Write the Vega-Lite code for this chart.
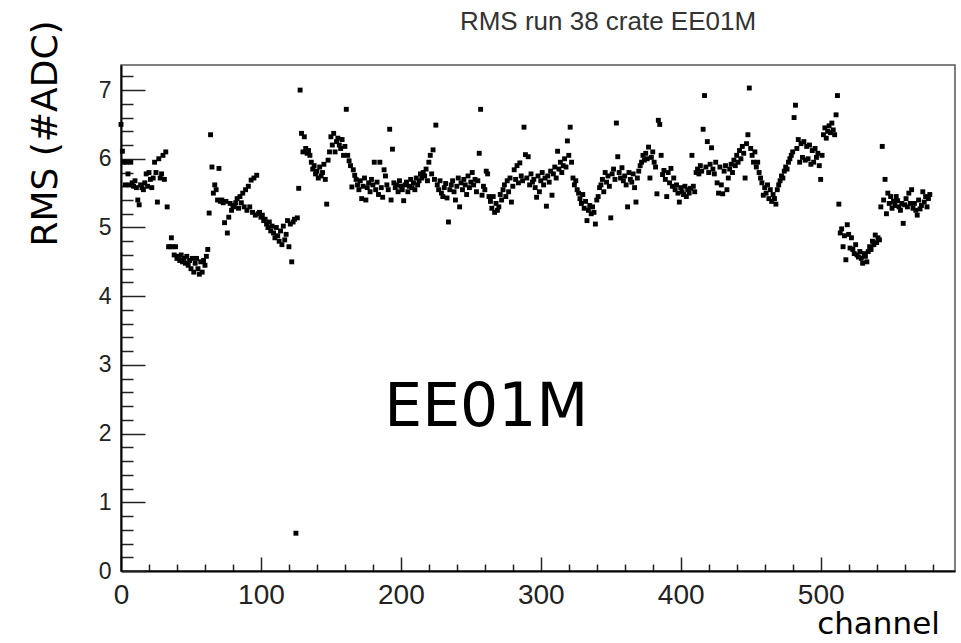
{
"$schema": "https://vega.github.io/schema/vega-lite/v6.json",
"width": 834,
"height": 506,
"autosize": {"type": "none"},
"padding": {"left": 121, "top": 65, "right": 6, "bottom": 72},
"background": "white",
"title": {"text": "RMS run 38 crate EE01M", "font": "Liberation Sans", "fontSize": 26, "fontWeight": "normal", "color": "#333", "anchor": "middle", "dx": 70, "dy": 40, "offset": 4, "baseline": "alphabetic", "frame": "group"},
"config": {
  "view": {"stroke": "#555", "strokeWidth": 1.5},
  "axis": {"grid": false, "domainColor": "#000", "domainWidth": 2, "tickColor": "#222", "tickWidth": 1.5, "labelColor": "#222", "labelFont": "Liberation Sans", "labelOverlap": false, "labelFlush": false, "titleFont": "DejaVu Sans", "titleFontWeight": "normal", "titleColor": "#000"}
},
"encoding": {
  "x": {"field": "ch", "type": "quantitative", "scale": {"domain": [0, 596], "nice": false, "zero": false},
    "axis": {"title": "channel", "values": [0,20,40,60,80,100,120,140,160,180,200,220,240,260,280,300,320,340,360,380,400,420,440,460,480,500,520,540,560,580],
      "format": ".0f",
      "labelExpr": "datum.value % 100 === 0 ? datum.label : ''",
      "tickSize": {"condition": {"test": "datum.value % 100 === 0", "value": -14}, "value": -7},
      "labelPadding": 24, "labelFontSize": 28,
      "titleFontSize": 31, "titleX": 757, "titleY": 62, "titleAlign": "center", "titleBaseline": "alphabetic"}},
  "y": {"field": "rms", "type": "quantitative", "scale": {"domain": [0, 7.365], "nice": false, "zero": false},
    "axis": {"title": "RMS (#ADC)", "values": [0,0.2,0.4,0.6,0.8,1,1.2,1.4,1.6,1.8,2,2.2,2.4,2.6,2.8,3,3.2,3.4,3.6,3.8,4,4.2,4.4,4.6,4.8,5,5.2,5.4,5.6,5.8,6,6.2,6.4,6.6,6.8,7,7.2],
      "format": ".0f",
      "labelExpr": "abs(datum.value - round(datum.value)) < 0.001 ? datum.label : ''",
      "tickSize": {"condition": {"test": "abs(datum.value - round(datum.value)) < 0.001", "value": -24}, "value": -12},
      "labelPadding": 34, "labelFontSize": 23,
      "titleFontSize": 36, "titleAngle": -90, "titleX": -76, "titleY": 68, "titleAlign": "center", "titleBaseline": "middle"}}
},
"layer": [
{
"data": {"values": [
{"ch":0,"rms":6.50},{"ch":1,"rms":6.11},{"ch":2,"rms":5.95},{"ch":3,"rms":5.62},{"ch":4,"rms":5.95},{"ch":5,"rms":5.78},{"ch":6,"rms":5.62},{"ch":7,"rms":5.95},{"ch":8,"rms":5.65},{"ch":9,"rms":5.60},
{"ch":10,"rms":5.68},{"ch":11,"rms":5.58},{"ch":12,"rms":5.40},{"ch":13,"rms":5.33},{"ch":14,"rms":5.62},{"ch":15,"rms":5.58},{"ch":16,"rms":5.55},{"ch":17,"rms":5.65},{"ch":18,"rms":5.78},{"ch":19,"rms":5.60},
{"ch":20,"rms":5.80},{"ch":21,"rms":5.70},{"ch":22,"rms":5.58},{"ch":23,"rms":5.72},{"ch":24,"rms":5.95},{"ch":25,"rms":5.80},{"ch":26,"rms":5.37},{"ch":27,"rms":6.00},{"ch":28,"rms":5.72},{"ch":29,"rms":5.78},
{"ch":30,"rms":6.05},{"ch":31,"rms":5.70},{"ch":32,"rms":6.10},{"ch":33,"rms":5.30},{"ch":34,"rms":4.72},{"ch":35,"rms":4.72},{"ch":36,"rms":4.85},{"ch":37,"rms":4.72},{"ch":38,"rms":4.60},{"ch":39,"rms":4.72},
{"ch":40,"rms":4.55},{"ch":41,"rms":4.58},{"ch":42,"rms":4.52},{"ch":43,"rms":4.60},{"ch":44,"rms":4.50},{"ch":45,"rms":4.55},{"ch":46,"rms":4.48},{"ch":47,"rms":4.58},{"ch":48,"rms":4.45},{"ch":49,"rms":4.52},
{"ch":50,"rms":4.40},{"ch":51,"rms":4.55},{"ch":52,"rms":4.35},{"ch":53,"rms":4.48},{"ch":54,"rms":4.55},{"ch":55,"rms":4.40},{"ch":56,"rms":4.32},{"ch":57,"rms":4.50},{"ch":58,"rms":4.35},{"ch":59,"rms":4.52},
{"ch":60,"rms":4.45},{"ch":61,"rms":4.58},{"ch":62,"rms":4.68},{"ch":63,"rms":5.21},{"ch":64,"rms":6.35},{"ch":65,"rms":5.88},{"ch":66,"rms":5.50},{"ch":67,"rms":5.62},{"ch":68,"rms":5.55},{"ch":69,"rms":5.40},
{"ch":70,"rms":5.86},{"ch":71,"rms":5.38},{"ch":72,"rms":5.40},{"ch":73,"rms":5.36},{"ch":74,"rms":5.07},{"ch":75,"rms":5.38},{"ch":76,"rms":4.92},{"ch":77,"rms":5.15},{"ch":78,"rms":5.35},{"ch":79,"rms":5.25},
{"ch":80,"rms":5.32},{"ch":81,"rms":5.30},{"ch":82,"rms":5.36},{"ch":83,"rms":5.42},{"ch":84,"rms":5.28},{"ch":85,"rms":5.45},{"ch":86,"rms":5.36},{"ch":87,"rms":5.50},{"ch":88,"rms":5.30},{"ch":89,"rms":5.55},
{"ch":90,"rms":5.25},{"ch":91,"rms":5.60},{"ch":92,"rms":5.30},{"ch":93,"rms":5.69},{"ch":94,"rms":5.22},{"ch":95,"rms":5.72},{"ch":96,"rms":5.18},{"ch":97,"rms":5.76},{"ch":98,"rms":5.20},{"ch":99,"rms":5.22},
{"ch":100,"rms":5.15},{"ch":101,"rms":5.18},{"ch":102,"rms":5.10},{"ch":103,"rms":5.12},{"ch":104,"rms":5.05},{"ch":105,"rms":5.00},{"ch":106,"rms":5.08},{"ch":107,"rms":4.95},{"ch":108,"rms":5.02},{"ch":109,"rms":4.92},
{"ch":110,"rms":4.85},{"ch":111,"rms":5.00},{"ch":112,"rms":4.88},{"ch":113,"rms":4.80},{"ch":114,"rms":4.95},{"ch":115,"rms":4.75},{"ch":116,"rms":5.02},{"ch":117,"rms":4.82},{"ch":118,"rms":4.90},{"ch":119,"rms":5.10},
{"ch":120,"rms":4.72},{"ch":121,"rms":5.05},{"ch":122,"rms":4.50},{"ch":123,"rms":5.08},{"ch":124,"rms":5.12},{"ch":125,"rms":0.55},{"ch":126,"rms":5.14},{"ch":127,"rms":5.57},{"ch":128,"rms":7.00},{"ch":129,"rms":6.37},
{"ch":130,"rms":6.10},{"ch":131,"rms":6.32},{"ch":132,"rms":6.15},{"ch":133,"rms":6.08},{"ch":134,"rms":6.12},{"ch":135,"rms":6.05},{"ch":136,"rms":5.95},{"ch":137,"rms":5.85},{"ch":138,"rms":5.90},{"ch":139,"rms":5.78},
{"ch":140,"rms":5.82},{"ch":141,"rms":5.72},{"ch":142,"rms":5.88},{"ch":143,"rms":5.75},{"ch":144,"rms":5.80},{"ch":145,"rms":5.92},{"ch":146,"rms":5.70},{"ch":147,"rms":5.34},{"ch":148,"rms":5.98},{"ch":149,"rms":6.10},
{"ch":150,"rms":6.32},{"ch":151,"rms":6.20},{"ch":152,"rms":6.37},{"ch":153,"rms":6.10},{"ch":154,"rms":6.25},{"ch":155,"rms":6.30},{"ch":156,"rms":6.20},{"ch":157,"rms":6.15},{"ch":158,"rms":6.28},{"ch":159,"rms":6.05},
{"ch":160,"rms":6.18},{"ch":161,"rms":6.72},{"ch":162,"rms":6.05},{"ch":163,"rms":5.97},{"ch":164,"rms":5.90},{"ch":165,"rms":5.59},{"ch":166,"rms":5.84},{"ch":167,"rms":5.76},{"ch":168,"rms":5.70},{"ch":169,"rms":5.62},
{"ch":170,"rms":5.55},{"ch":171,"rms":5.68},{"ch":172,"rms":5.42},{"ch":173,"rms":5.60},{"ch":174,"rms":5.72},{"ch":175,"rms":5.40},{"ch":176,"rms":5.58},{"ch":177,"rms":5.65},{"ch":178,"rms":5.52},{"ch":179,"rms":5.70},
{"ch":180,"rms":5.62},{"ch":181,"rms":5.95},{"ch":182,"rms":5.55},{"ch":183,"rms":5.66},{"ch":184,"rms":5.48},{"ch":185,"rms":5.95},{"ch":186,"rms":5.58},{"ch":187,"rms":5.44},{"ch":188,"rms":5.84},{"ch":189,"rms":5.75},
{"ch":190,"rms":5.62},{"ch":191,"rms":5.55},{"ch":192,"rms":6.43},{"ch":193,"rms":5.40},{"ch":194,"rms":6.14},{"ch":195,"rms":5.65},{"ch":196,"rms":5.58},{"ch":197,"rms":5.62},{"ch":198,"rms":5.52},{"ch":199,"rms":5.68},
{"ch":200,"rms":5.60},{"ch":201,"rms":5.55},{"ch":202,"rms":5.39},{"ch":203,"rms":5.62},{"ch":204,"rms":5.66},{"ch":205,"rms":5.52},{"ch":206,"rms":5.60},{"ch":207,"rms":5.70},{"ch":208,"rms":5.58},{"ch":209,"rms":5.65},
{"ch":210,"rms":5.55},{"ch":211,"rms":5.72},{"ch":212,"rms":5.62},{"ch":213,"rms":5.68},{"ch":214,"rms":5.78},{"ch":215,"rms":5.72},{"ch":216,"rms":5.80},{"ch":217,"rms":5.75},{"ch":218,"rms":5.85},{"ch":219,"rms":5.68},
{"ch":220,"rms":5.95},{"ch":221,"rms":6.05},{"ch":222,"rms":5.78},{"ch":223,"rms":6.13},{"ch":224,"rms":5.70},{"ch":225,"rms":6.49},{"ch":226,"rms":5.62},{"ch":227,"rms":5.55},{"ch":228,"rms":5.68},{"ch":229,"rms":5.50},
{"ch":230,"rms":5.45},{"ch":231,"rms":5.58},{"ch":232,"rms":5.64},{"ch":233,"rms":5.43},{"ch":234,"rms":5.08},{"ch":235,"rms":5.55},{"ch":236,"rms":5.62},{"ch":237,"rms":5.68},{"ch":238,"rms":5.52},{"ch":239,"rms":5.40},
{"ch":240,"rms":5.60},{"ch":241,"rms":5.72},{"ch":242,"rms":5.30},{"ch":243,"rms":5.65},{"ch":244,"rms":5.55},{"ch":245,"rms":5.70},{"ch":246,"rms":5.62},{"ch":247,"rms":5.48},{"ch":248,"rms":5.75},{"ch":249,"rms":5.58},
{"ch":250,"rms":5.66},{"ch":251,"rms":5.80},{"ch":252,"rms":5.62},{"ch":253,"rms":5.70},{"ch":254,"rms":5.52},{"ch":255,"rms":5.68},{"ch":256,"rms":6.08},{"ch":257,"rms":6.72},{"ch":258,"rms":5.47},{"ch":259,"rms":5.60},
{"ch":260,"rms":5.55},{"ch":261,"rms":5.82},{"ch":262,"rms":5.78},{"ch":263,"rms":5.45},{"ch":264,"rms":5.38},{"ch":265,"rms":5.28},{"ch":266,"rms":5.45},{"ch":267,"rms":5.22},{"ch":268,"rms":5.35},{"ch":269,"rms":5.25},
{"ch":270,"rms":5.30},{"ch":271,"rms":5.48},{"ch":272,"rms":5.40},{"ch":273,"rms":5.55},{"ch":274,"rms":5.62},{"ch":275,"rms":5.45},{"ch":276,"rms":5.68},{"ch":277,"rms":5.52},{"ch":278,"rms":5.72},{"ch":279,"rms":5.37},
{"ch":280,"rms":5.60},{"ch":281,"rms":5.84},{"ch":282,"rms":5.70},{"ch":283,"rms":5.90},{"ch":284,"rms":5.65},{"ch":285,"rms":5.94},{"ch":286,"rms":5.75},{"ch":287,"rms":5.68},{"ch":288,"rms":6.46},{"ch":289,"rms":6.06},
{"ch":290,"rms":5.72},{"ch":291,"rms":6.03},{"ch":292,"rms":5.62},{"ch":293,"rms":5.78},{"ch":294,"rms":5.66},{"ch":295,"rms":5.70},{"ch":296,"rms":5.58},{"ch":297,"rms":5.44},{"ch":298,"rms":5.75},{"ch":299,"rms":5.52},
{"ch":300,"rms":5.68},{"ch":301,"rms":5.80},{"ch":302,"rms":5.62},{"ch":303,"rms":5.72},{"ch":304,"rms":5.31},{"ch":305,"rms":5.75},{"ch":306,"rms":5.66},{"ch":307,"rms":5.82},{"ch":308,"rms":5.47},{"ch":309,"rms":5.78},
{"ch":310,"rms":5.88},{"ch":311,"rms":5.72},{"ch":312,"rms":6.11},{"ch":313,"rms":5.85},{"ch":314,"rms":5.95},{"ch":315,"rms":5.80},{"ch":316,"rms":5.90},{"ch":317,"rms":6.00},{"ch":318,"rms":5.88},{"ch":319,"rms":6.26},
{"ch":320,"rms":6.05},{"ch":321,"rms":6.46},{"ch":322,"rms":5.95},{"ch":323,"rms":5.72},{"ch":324,"rms":5.62},{"ch":325,"rms":5.68},{"ch":326,"rms":5.55},{"ch":327,"rms":5.50},{"ch":328,"rms":5.42},{"ch":329,"rms":5.35},
{"ch":330,"rms":5.48},{"ch":331,"rms":5.28},{"ch":332,"rms":5.38},{"ch":333,"rms":5.10},{"ch":334,"rms":5.25},{"ch":335,"rms":5.32},{"ch":336,"rms":5.20},{"ch":337,"rms":5.30},{"ch":338,"rms":5.22},{"ch":339,"rms":5.05},
{"ch":340,"rms":5.40},{"ch":341,"rms":5.45},{"ch":342,"rms":5.58},{"ch":343,"rms":5.62},{"ch":344,"rms":5.70},{"ch":345,"rms":5.52},{"ch":346,"rms":5.80},{"ch":347,"rms":5.66},{"ch":348,"rms":5.75},{"ch":349,"rms":5.60},
{"ch":350,"rms":5.14},{"ch":351,"rms":5.78},{"ch":352,"rms":5.85},{"ch":353,"rms":5.70},{"ch":354,"rms":6.52},{"ch":355,"rms":6.03},{"ch":356,"rms":5.80},{"ch":357,"rms":5.72},{"ch":358,"rms":5.87},{"ch":359,"rms":5.68},
{"ch":360,"rms":5.75},{"ch":361,"rms":5.62},{"ch":362,"rms":5.30},{"ch":363,"rms":5.80},{"ch":364,"rms":5.70},{"ch":365,"rms":5.66},{"ch":366,"rms":5.78},{"ch":367,"rms":5.58},{"ch":368,"rms":5.37},{"ch":369,"rms":5.72},
{"ch":370,"rms":5.82},{"ch":371,"rms":5.90},{"ch":372,"rms":5.95},{"ch":373,"rms":6.05},{"ch":374,"rms":5.98},{"ch":375,"rms":6.08},{"ch":376,"rms":6.00},{"ch":377,"rms":6.17},{"ch":378,"rms":5.72},{"ch":379,"rms":6.02},
{"ch":380,"rms":6.10},{"ch":381,"rms":5.95},{"ch":382,"rms":5.88},{"ch":383,"rms":5.49},{"ch":384,"rms":6.56},{"ch":385,"rms":6.50},{"ch":386,"rms":6.05},{"ch":387,"rms":5.77},{"ch":388,"rms":5.83},{"ch":389,"rms":5.70},
{"ch":390,"rms":5.45},{"ch":391,"rms":5.80},{"ch":392,"rms":5.65},{"ch":393,"rms":5.86},{"ch":394,"rms":5.60},{"ch":395,"rms":5.72},{"ch":396,"rms":5.55},{"ch":397,"rms":5.62},{"ch":398,"rms":5.50},{"ch":399,"rms":5.37},
{"ch":400,"rms":5.58},{"ch":401,"rms":5.52},{"ch":402,"rms":5.48},{"ch":403,"rms":5.60},{"ch":404,"rms":5.45},{"ch":405,"rms":5.55},{"ch":406,"rms":5.50},{"ch":407,"rms":5.57},{"ch":408,"rms":6.05},{"ch":409,"rms":5.60},
{"ch":410,"rms":5.52},{"ch":411,"rms":5.80},{"ch":412,"rms":5.85},{"ch":413,"rms":5.78},{"ch":414,"rms":5.90},{"ch":415,"rms":5.82},{"ch":416,"rms":6.43},{"ch":417,"rms":6.92},{"ch":418,"rms":5.88},{"ch":419,"rms":6.25},
{"ch":420,"rms":5.80},{"ch":421,"rms":5.92},{"ch":422,"rms":6.16},{"ch":423,"rms":5.85},{"ch":424,"rms":5.78},{"ch":425,"rms":5.95},{"ch":426,"rms":5.65},{"ch":427,"rms":5.50},{"ch":428,"rms":5.88},{"ch":429,"rms":5.62},
{"ch":430,"rms":5.49},{"ch":431,"rms":5.82},{"ch":432,"rms":5.90},{"ch":433,"rms":5.55},{"ch":434,"rms":5.72},{"ch":435,"rms":5.85},{"ch":436,"rms":5.92},{"ch":437,"rms":5.80},{"ch":438,"rms":5.98},{"ch":439,"rms":5.90},
{"ch":440,"rms":6.05},{"ch":441,"rms":5.95},{"ch":442,"rms":6.12},{"ch":443,"rms":6.00},{"ch":444,"rms":6.18},{"ch":445,"rms":6.08},{"ch":446,"rms":5.72},{"ch":447,"rms":6.22},{"ch":448,"rms":6.35},{"ch":449,"rms":7.03},
{"ch":450,"rms":6.15},{"ch":451,"rms":6.05},{"ch":452,"rms":5.95},{"ch":453,"rms":6.10},{"ch":454,"rms":5.88},{"ch":455,"rms":5.95},{"ch":456,"rms":5.80},{"ch":457,"rms":5.72},{"ch":458,"rms":5.65},{"ch":459,"rms":5.47},
{"ch":460,"rms":5.58},{"ch":461,"rms":5.50},{"ch":462,"rms":5.62},{"ch":463,"rms":5.42},{"ch":464,"rms":5.55},{"ch":465,"rms":5.38},{"ch":466,"rms":5.48},{"ch":467,"rms":5.42},{"ch":468,"rms":5.34},{"ch":469,"rms":5.55},
{"ch":470,"rms":5.62},{"ch":471,"rms":5.68},{"ch":472,"rms":5.75},{"ch":473,"rms":5.72},{"ch":474,"rms":5.82},{"ch":475,"rms":5.88},{"ch":476,"rms":5.85},{"ch":477,"rms":5.95},{"ch":478,"rms":6.00},{"ch":479,"rms":6.05},
{"ch":480,"rms":6.10},{"ch":481,"rms":6.60},{"ch":482,"rms":6.78},{"ch":483,"rms":6.15},{"ch":484,"rms":6.28},{"ch":485,"rms":5.95},{"ch":486,"rms":6.22},{"ch":487,"rms":6.02},{"ch":488,"rms":6.25},{"ch":489,"rms":5.98},
{"ch":490,"rms":6.18},{"ch":491,"rms":6.00},{"ch":492,"rms":6.20},{"ch":493,"rms":5.92},{"ch":494,"rms":6.12},{"ch":495,"rms":5.95},{"ch":496,"rms":6.15},{"ch":497,"rms":6.02},{"ch":498,"rms":6.08},{"ch":499,"rms":5.90},
{"ch":500,"rms":5.70},{"ch":501,"rms":6.05},{"ch":502,"rms":6.35},{"ch":503,"rms":6.45},{"ch":504,"rms":6.30},{"ch":505,"rms":6.40},{"ch":506,"rms":6.48},{"ch":507,"rms":6.38},{"ch":508,"rms":6.52},{"ch":509,"rms":6.42},
{"ch":510,"rms":6.35},{"ch":511,"rms":6.64},{"ch":512,"rms":6.92},{"ch":513,"rms":5.34},{"ch":514,"rms":4.92},{"ch":515,"rms":4.98},{"ch":516,"rms":4.72},{"ch":517,"rms":4.88},{"ch":518,"rms":4.53},{"ch":519,"rms":5.04},
{"ch":520,"rms":4.90},{"ch":521,"rms":4.70},{"ch":522,"rms":4.85},{"ch":523,"rms":4.68},{"ch":524,"rms":4.62},{"ch":525,"rms":4.75},{"ch":526,"rms":4.60},{"ch":527,"rms":4.57},{"ch":528,"rms":4.65},{"ch":529,"rms":4.55},
{"ch":530,"rms":4.48},{"ch":531,"rms":4.62},{"ch":532,"rms":4.58},{"ch":533,"rms":4.50},{"ch":534,"rms":4.65},{"ch":535,"rms":4.72},{"ch":536,"rms":4.68},{"ch":537,"rms":4.80},{"ch":538,"rms":4.75},{"ch":539,"rms":4.89},
{"ch":540,"rms":4.78},{"ch":541,"rms":4.85},{"ch":542,"rms":4.82},{"ch":543,"rms":5.30},{"ch":544,"rms":6.18},{"ch":545,"rms":5.40},{"ch":546,"rms":5.70},{"ch":547,"rms":5.20},{"ch":548,"rms":5.50},{"ch":549,"rms":5.35},
{"ch":550,"rms":5.45},{"ch":551,"rms":5.28},{"ch":552,"rms":5.38},{"ch":553,"rms":5.32},{"ch":554,"rms":5.45},{"ch":555,"rms":5.39},{"ch":556,"rms":5.30},{"ch":557,"rms":5.25},{"ch":558,"rms":5.35},{"ch":559,"rms":5.06},
{"ch":560,"rms":5.33},{"ch":561,"rms":5.42},{"ch":562,"rms":5.30},{"ch":563,"rms":5.50},{"ch":564,"rms":5.35},{"ch":565,"rms":5.55},{"ch":566,"rms":5.28},{"ch":567,"rms":5.35},{"ch":568,"rms":5.25},{"ch":569,"rms":5.18},
{"ch":570,"rms":5.40},{"ch":571,"rms":5.27},{"ch":572,"rms":5.32},{"ch":573,"rms":5.52},{"ch":574,"rms":5.37},{"ch":575,"rms":5.45},{"ch":576,"rms":5.30},{"ch":577,"rms":5.42},{"ch":578,"rms":5.48}
]},
"mark": {"type": "square", "size": 24, "color": "#000", "opacity": 1}
},
{
"data": {"values": [{"label": "EE01M", "ch": 261, "rms": 2.37}]},
"mark": {"type": "text", "font": "DejaVu Sans", "fontSize": 60, "align": "center", "baseline": "middle", "color": "#000"},
"encoding": {"text": {"field": "label"}}
}
]
}
